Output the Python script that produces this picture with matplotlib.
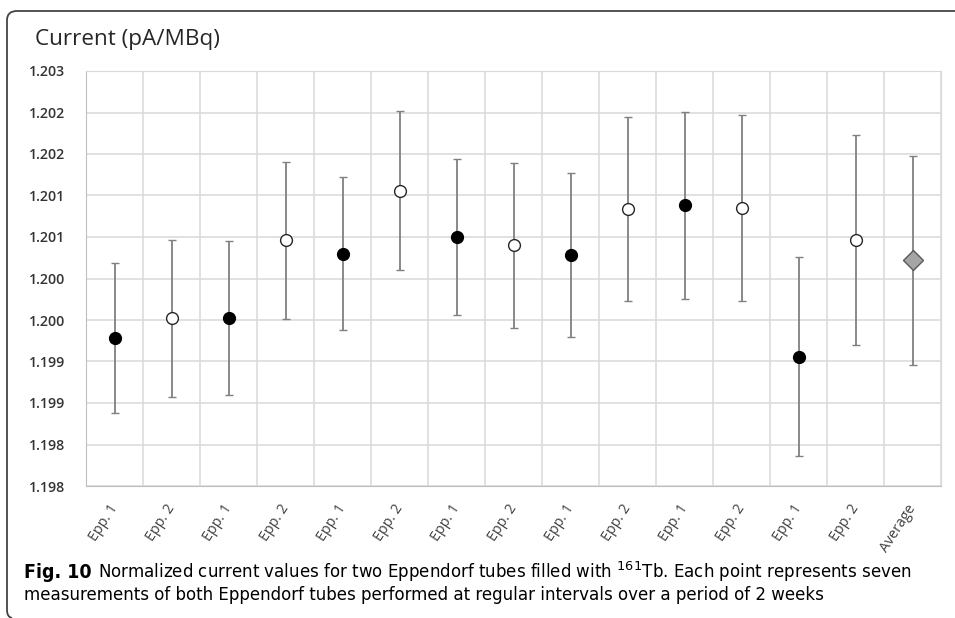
import matplotlib.pyplot as plt
import matplotlib.patches as mpatches
from matplotlib import font_manager
from matplotlib.path import Path
import numpy as np

labels = ["Epp. 1", "Epp. 2", "Epp. 1", "Epp. 2", "Epp. 1", "Epp. 2", "Epp. 1",
          "Epp. 2", "Epp. 1", "Epp. 2", "Epp. 1", "Epp. 2", "Epp. 1", "Epp. 2", "Average"]
current = [1.19928, 1.19952, 1.19952, 1.20046, 1.20030, 1.20106, 1.20050,
           1.20040, 1.20028, 1.20084, 1.20088, 1.20085, 1.19906, 1.20046, 1.20022]
error = [0.000905, 0.000942, 0.000926, 0.000942, 0.000919, 0.000962, 0.000942,
         0.000994, 0.000990, 0.001110, 0.001125, 0.001125, 0.001195, 0.001263, 0.001261]
y_ticks = [1.1975, 1.1980, 1.1985, 1.1990, 1.1995, 1.2000, 1.2005, 1.2010, 1.2015, 1.2020, 1.2025]
y_tick_labels = ["1.198", "1.198", "1.199", "1.199", "1.200", "1.200", "1.201",
                 "1.201", "1.202", "1.202", "1.203"]

plt.rcParams['font.family'] = ['Open Sans', 'DejaVu Sans']

# narrow face for the caption if one is installed
cap_family = ['Lato', 'DejaVu Sans']
for f in font_manager.fontManager.ttflist:
    if f.name == 'DejaVu Sans Condensed' or (f.name == 'DejaVu Sans' and f.stretch == 'condensed'):
        cap_family = [f.name, 'DejaVu Sans']
        break
cap_stretch = 'condensed' if cap_family[0].startswith('DejaVu') else 'normal'
plt.rcParams['mathtext.fontset'] = 'custom'
plt.rcParams['mathtext.rm'] = cap_family[0]

W, H = 955, 618
fig = plt.figure(figsize=(W / 100, H / 100), dpi=100)
ax = fig.add_axes([86 / W, 1 - 486 / H, 855 / W, 415 / H])

x = np.arange(len(labels))
for i in x:
    if labels[i] == "Average":
        marker, face, edge, ms = 'D', '#a5a5a5', '#595959', 10
    elif labels[i] == "Epp. 1":
        marker, face, edge, ms = 'o', 'black', 'black', 8.5
    else:
        marker, face, edge, ms = 'o', 'white', '#262626', 8.5
    ax.errorbar(i, current[i], yerr=error[i], fmt=marker, color='#808080',
                ecolor='#808080', elinewidth=1.3, capsize=3, capthick=1.3,
                markerfacecolor=face, markeredgecolor=edge,
                markeredgewidth=1.0, markersize=ms, zorder=3)

ax.set_xlim(-0.5, len(labels) - 0.5)
ax.set_ylim(y_ticks[0], y_ticks[-1])
ax.set_yticks(y_ticks, labels=y_tick_labels)
ax.set_xticks(x)
ax.set_xticklabels(labels, rotation=57, ha='right', va='center',
                   rotation_mode='anchor', fontsize=10.3, color='#404040')

# cell grid between the categories
ax.set_xticks(np.arange(len(labels) + 1) - 0.5, minor=True)
ax.grid(True, which='minor', axis='x', color='#d9d9d9', linewidth=1.1)
ax.grid(True, which='major', axis='y', color='#d9d9d9', linewidth=1.1)
ax.set_axisbelow(True)
ax.tick_params(axis='both', which='both', length=0)
ax.tick_params(axis='y', pad=41, labelsize=10.2, labelcolor='#333333')
ax.tick_params(axis='x', pad=14)
for lbl in ax.get_yticklabels():
    lbl.set_fontweight('semibold')
    lbl.set_horizontalalignment('left')
for side in ['top', 'right']:
    ax.spines[side].set_color('#d9d9d9')
for side in ['left', 'bottom']:
    ax.spines[side].set_color('#bfbfbf')

fig.text(35 / W, 1 - 45 / H, "Current (pA/MBq)", fontsize=16.2,
         color='#262626', va='baseline', ha='left')

# caption, second part of line 1 sized to run from x=98 to x=908
renderer = fig.canvas.get_renderer()
line1 = fig.text(98 / W, 1 - 578 / H,
                 "Normalized current values for two Eppendorf tubes filled with $^{161}$Tb. "
                 "Each point represents seven",
                 fontsize=12, va='baseline', ha='left', family=cap_family,
                 fontstretch=cap_stretch)
width = line1.get_window_extent(renderer).width
cap_size = 12 * 810 / width
line1.set_fontsize(cap_size)
fig.text(24 / W, 1 - 578 / H, "Fig. 10", fontsize=cap_size * 1.05, fontweight='bold',
         va='baseline', ha='left', family=cap_family, fontstretch=cap_stretch)
fig.text(24 / W, 1 - 600 / H,
         "measurements of both Eppendorf tubes performed at regular intervals over a period of 2 weeks",
         fontsize=cap_size, va='baseline', ha='left', family=cap_family,
         fontstretch=cap_stretch)

# rounded frame on the top and left side
verts = [(12, 618), (7, 617), (7, 610), (7, 20), (7, 11), (17, 11), (955, 11)]
codes = [Path.MOVETO, Path.CURVE3, Path.CURVE3, Path.LINETO, Path.CURVE3, Path.CURVE3, Path.LINETO]
verts = [(vx / W, 1 - vy / H) for vx, vy in verts]
frame = mpatches.PathPatch(Path(verts, codes), transform=fig.transFigure,
                           fill=False, edgecolor='#444444', linewidth=1.3)
fig.patches.append(frame)

fig.savefig("out.png", dpi=100)
